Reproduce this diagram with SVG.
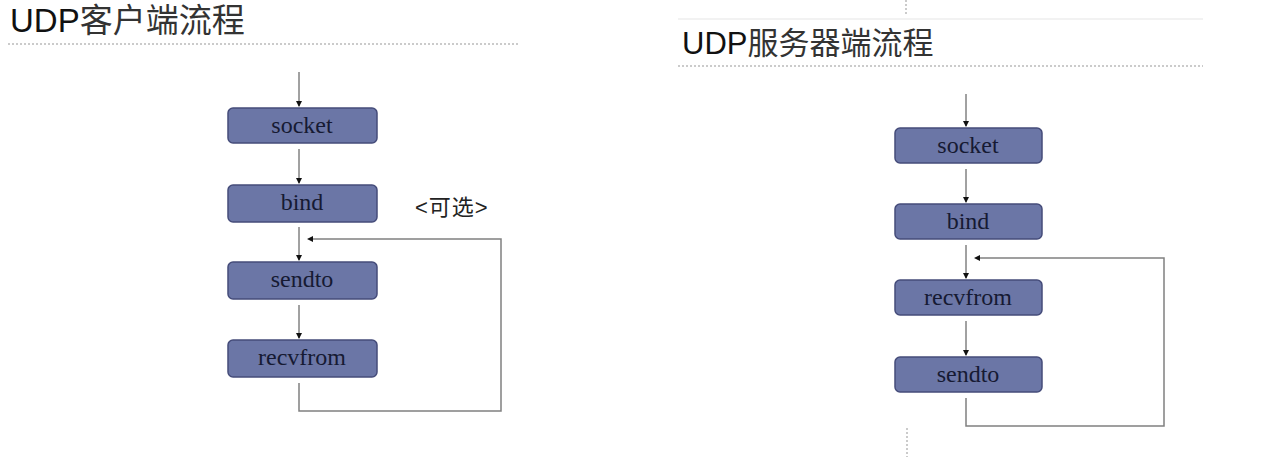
<svg xmlns="http://www.w3.org/2000/svg" width="1269" height="457" viewBox="0 0 1269 457">
<style>
.title{font-family:"Liberation Sans","Noto Sans CJK SC",sans-serif;font-size:33px;fill:#333}
.title .lat{fill:#111}
.box rect{fill:#6b76a6;stroke:#454c7a;stroke-width:1.5}
.box text{font-family:"Liberation Serif",serif;font-size:24px;fill:#161a33;text-anchor:middle}
.arr{stroke:#444;stroke-width:1;fill:none;marker-end:url(#ah)}
.loop{stroke:#808080;stroke-width:1.5;fill:none}
.dots{stroke:#bbb;stroke-width:1.5;stroke-dasharray:2 2;fill:none}
.note{font-family:"Liberation Sans","Noto Sans CJK SC",sans-serif;font-size:22px;letter-spacing:1px;fill:#222}
</style>
<defs>
<marker id="ah" viewBox="0 0 6 6" refX="5" refY="3" markerWidth="6" markerHeight="6" orient="auto" markerUnits="userSpaceOnUse">
<path d="M0,0 L6,3 L0,6 z" fill="#111"/>
</marker>
</defs>
<rect width="1269" height="457" fill="#fff"/>
<g id="decor">
<line class="dots" x1="8" y1="44" x2="518" y2="44"/>
<line x1="678" y1="19" x2="1203" y2="19" stroke="#eee" stroke-width="1.5"/>
<line class="dots" x1="678" y1="66" x2="1203" y2="66"/>
<line class="dots" x1="906" y1="0" x2="906" y2="16"/>
<line class="dots" x1="907" y1="428" x2="907" y2="457"/>
</g>
<g id="title-client"><text class="title" x="10" y="32"><tspan class="lat">UDP</tspan>客户端流程</text></g>
<g id="title-server"><text class="title" x="682" y="54" style="font-size:31px"><tspan class="lat">UDP</tspan>服务器端流程</text></g>
<g id="connectors">
<line class="arr" x1="299" y1="72" x2="299" y2="106"/>
<line class="arr" x1="299" y1="149" x2="299" y2="183"/>
<line class="arr" x1="299" y1="227" x2="299" y2="260"/>
<line class="arr" x1="299" y1="305" x2="299" y2="338"/>
<polyline class="loop" points="299,383 299,411 501,411 501,239 312,239"/>
<path d="M307,239 L313,236 L313,242 z" fill="#111"/>
<line class="arr" x1="966" y1="94" x2="966" y2="126"/>
<line class="arr" x1="966" y1="169" x2="966" y2="202"/>
<line class="arr" x1="966" y1="245" x2="966" y2="278"/>
<line class="arr" x1="966" y1="321" x2="966" y2="355"/>
<polyline class="loop" points="966,398 966,426 1164,426 1164,258 979,258"/>
<path d="M974,258 L980,255 L980,261 z" fill="#111"/>
</g>
<g id="c-socket" class="box"><rect x="228" y="108" width="149" height="35" rx="5"/><text x="302" y="133">socket</text></g>
<g id="c-bind" class="box"><rect x="228" y="185" width="149" height="37" rx="5"/><text x="302" y="210">bind</text></g>
<g id="c-sendto" class="box"><rect x="228" y="262" width="149" height="37" rx="5"/><text x="302" y="287">sendto</text></g>
<g id="c-recvfrom" class="box"><rect x="228" y="340" width="149" height="37" rx="5"/><text x="302" y="365">recvfrom</text></g>
<g id="c-note"><text class="note" x="415" y="215">&lt;可选&gt;</text></g>
<g id="s-socket" class="box"><rect x="895" y="128" width="147" height="35" rx="5"/><text x="968" y="153">socket</text></g>
<g id="s-bind" class="box"><rect x="895" y="204" width="147" height="35" rx="5"/><text x="968" y="229">bind</text></g>
<g id="s-recvfrom" class="box"><rect x="895" y="280" width="147" height="35" rx="5"/><text x="968" y="305">recvfrom</text></g>
<g id="s-sendto" class="box"><rect x="895" y="357" width="147" height="35" rx="5"/><text x="968" y="382">sendto</text></g>
</svg>
